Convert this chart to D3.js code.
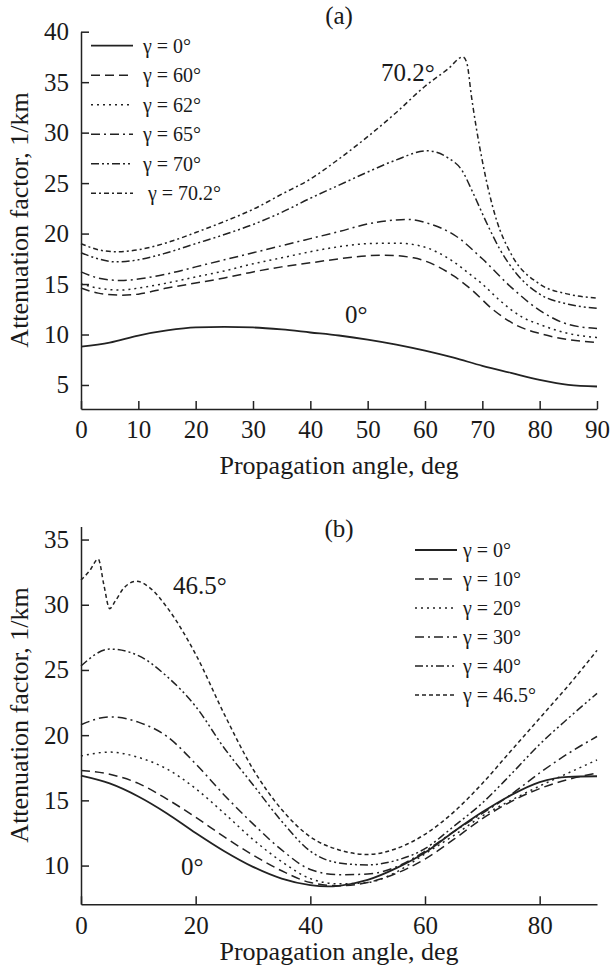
<!DOCTYPE html>
<html><head><meta charset="utf-8">
<script src="https://cdn.jsdelivr.net/npm/d3@7"></script>
<style>
html,body{margin:0;padding:0;background:#fff;}
svg text{font-family:"Liberation Serif","Times New Roman",serif;fill:#1a1a1a;}
</style></head>
<body><svg id="c" width="611" height="974"></svg>
<script>
// ---------- Panel (a) data ----------
const ticksA = [0,10,20,30,40,50,60,70,80,90];
const yTicksA = [5,10,15,20,25,30,35,40];
const a0x  = [0,5,10,15,20,25,30,35,40,45,50,55,60,65,70,75,80,85,90];
const a0y  = [8.8,9.2,9.9,10.4,10.7,10.75,10.7,10.5,10.2,9.9,9.5,9.0,8.4,7.7,6.9,6.2,5.5,5.0,4.85];
const a60x = [0,3,7,10,15,20,25,30,35,40,45,50,53,58,62,65,68,72,76,80,85,90];
const a60y = [14.6,14.1,13.9,14.0,14.6,15.1,15.6,16.2,16.7,17.1,17.5,17.8,17.85,17.6,16.8,15.8,14.5,12.4,10.9,10.1,9.5,9.2];
const a62x = [0,3,7,10,15,20,25,30,35,40,45,50,55,59,62,65,68,70,73,77,80,85,90];
const a62y = [15.0,14.6,14.4,14.6,15.1,15.7,16.3,17.0,17.6,18.2,18.7,19.0,19.05,18.8,18.2,17.2,15.9,15.0,13.4,11.7,11.0,10.1,9.7];
const a65x = [0,3,7,10,15,20,25,30,35,40,45,50,55,57,60,63,65,70,75,80,85,90];
const a65y = [16.2,15.6,15.35,15.5,16.0,16.7,17.4,18.1,18.8,19.5,20.2,20.95,21.35,21.4,21.1,20.5,19.9,17.5,14.7,12.4,11.0,10.6];
const a70x = [0,3,6,10,15,20,25,30,35,40,45,50,55,60.3,64,66.4,68.4,70.8,73,76,80,85,90];
const a70y = [18.1,17.5,17.2,17.4,18.1,19.0,19.9,20.9,22.1,23.5,24.8,26.1,27.3,28.2,27.5,26.3,24.0,21.0,18.5,16.0,14.0,13.0,12.6];
const a702x = [0,3,6,10,15,20,25,30,35,40,45,50,55,60,64,66.6,67.3,68.1,69,70,71,72.5,75,80,85,90];
const a702y = [19.0,18.4,18.2,18.4,19.1,20.1,21.2,22.4,23.9,25.4,27.4,29.6,32.0,34.6,36.3,37.5,36.9,33.6,30.3,27.2,24.5,21.3,18.0,15.0,14.0,13.6];
const labelsA = ["γ = 0°","γ = 60°","γ = 62°","γ = 65°","γ = 70°"," γ = 70.2°"];

// ---------- Panel (b) data ----------
const ticksB = [0,20,40,60,80];
const yTicksB = [10,15,20,25,30,35];
const bx = [0,5,10,15,20,25,30,35,40,45,50,55,60,65,70,75,80,85,90];
const b0x = [0,5,10,15,20,25,30,35,40,43,45,50,55,60,65,70,75,80,85,90];
const b0y = [16.9,16.3,15.3,14.0,12.5,11.1,9.9,9.0,8.5,8.4,8.45,8.9,9.8,11.0,12.6,14.1,15.4,16.4,16.8,16.85];
const b10y = [17.3,17.0,16.3,15.1,13.7,12.2,10.8,9.6,8.7,8.45,8.7,9.4,10.5,12.0,13.6,14.9,15.9,16.6,17.1];
const b20y = [18.4,18.7,18.3,17.4,15.9,14.0,12.0,10.3,9.0,8.6,8.7,9.5,10.9,12.3,13.8,15.0,16.1,17.1,18.1];
const b30y = [20.8,21.4,21.0,19.9,17.8,15.4,13.2,11.2,9.7,9.3,9.35,9.9,11.1,12.6,14.0,15.45,17.1,18.6,19.9];
const b40y = [25.3,26.6,26.1,24.5,22.2,19.0,16.2,13.4,11.1,10.2,10.05,10.4,11.3,13.0,14.8,17.0,19.3,21.3,23.2];
const b465x = [0,1.5,3,4,5,6,7.5,9.7,12,15,20,25,30,35,40,45,50,55,60,65,70,75,80,85,90];
const b465y = [31.9,32.6,33.5,31.5,29.7,30.3,31.3,31.8,31.3,29.8,26.2,21.6,17.4,14.3,12.2,11.2,10.85,11.3,12.4,14.1,16.3,18.8,21.3,23.8,26.5];
const labelsB = ["γ = 0°","γ = 10°","γ = 20°","γ = 30°","γ = 40°","γ = 46.5°"];

// ---------- styles ----------
const dashA = [null,"9,5","2,4","9,4,2,4","8,3,2,3,2,3","5,3,2,3"];
const dashB = [null,"9,5","2,4","9,4,2,4","8,3,2,3,2,3","4,3"];
const ink = "#222";

const svg = d3.select("#c");
const zip = (xs, ys) => xs.map((x,i)=>[x, ys[i]]);

function panel(cfg){
  const x = d3.scaleLinear().domain([0,90]).range([81,597]);
  const y = d3.scaleLinear().domain(cfg.yDomain).range(cfg.yRange);
  const g = svg.append("g");
  const xa = d3.axisBottom(x).tickValues(cfg.xTicks).tickSizeInner(-8).tickSizeOuter(0).tickPadding(cfg.xPad).tickFormat(d3.format("d"));
  const ya = d3.axisLeft(y).tickValues(cfg.yTicks).tickSizeInner(-8).tickSizeOuter(0).tickPadding(12).tickFormat(d3.format("d"));
  const gx = g.append("g").attr("transform",`translate(0,${cfg.yRange[0]})`).call(xa);
  const gy = g.append("g").attr("transform","translate(81,0)").call(ya);
  [gx,gy].forEach(a=>{
    a.attr("font-family","Liberation Serif");
    a.select(".domain").attr("stroke",ink).attr("stroke-width",1.5);
    a.selectAll(".tick line").attr("stroke",ink).attr("stroke-width",1.5);
    a.selectAll(".tick text").attr("font-size",25).attr("fill","#1a1a1a");
  });
  const line = d3.line().x(d=>x(d[0])).y(d=>y(d[1])).curve(d3.curveMonotoneX);
  cfg.series.forEach((s,i)=>{
    g.append("path").datum(s).attr("d",line).attr("fill","none")
      .attr("stroke",ink).attr("stroke-width", i===0?1.8:1.5)
      .attr("stroke-dasharray", cfg.dash[i]);
  });
  cfg.labels.forEach((t,i)=>{
    const ly = cfg.legY + i*cfg.legStep;
    g.append("line").attr("x1",cfg.legX1).attr("x2",cfg.legX2).attr("y1",ly).attr("y2",ly)
      .attr("stroke",ink).attr("stroke-width",i===0?1.8:1.5).attr("stroke-dasharray",cfg.dash[i]);
    g.append("text").attr("x",cfg.legTX).attr("y",ly).attr("dy","0.35em").attr("font-size",20)
      .attr("xml:space","preserve").style("white-space","pre").text(t);
  });
  g.append("text").attr("x",339).attr("y",cfg.titleY).attr("text-anchor","middle").attr("font-size",25).text(cfg.title);
  g.append("text").attr("x",339).attr("y",cfg.xLabY).attr("text-anchor","middle").attr("font-size",26).text("Propagation angle, deg");
  g.append("text").attr("transform",`translate(28,${cfg.yLabC}) rotate(-90)`).attr("text-anchor","middle").attr("font-size",26).text("Attenuation factor, 1/km");
  cfg.notes.forEach(n=>{
    g.append("text").attr("x",n[0]).attr("y",n[1]).attr("font-size",25).text(n[2]);
  });
}

panel({
  yDomain:[2.62,40], yRange:[409,31.7], xTicks:ticksA, yTicks:yTicksA, xPad:11,
  series:[zip(a0x,a0y),zip(a60x,a60y),zip(a62x,a62y),zip(a65x,a65y),zip(a70x,a70y),zip(a702x,a702y)],
  dash:dashA, labels:labelsA, legX1:91, legX2:133, legTX:143, legY:45.7, legStep:29.5,
  title:"(a)", titleY:24, xLabY:474, yLabC:220,
  notes:[[381,81,"70.2°"],[345,323,"0°"]]
});
panel({
  yDomain:[7.03,36], yRange:[904.3,526.5], xTicks:ticksB, yTicks:yTicksB, xPad:12,
  series:[zip(b0x,b0y),zip(bx,b10y),zip(bx,b20y),zip(bx,b30y),zip(bx,b40y),zip(b465x,b465y)],
  dash:dashB, labels:labelsB, legX1:415, legX2:457, legTX:463, legY:550, legStep:29,
  title:"(b)", titleY:537, xLabY:960, yLabC:715,
  notes:[[173,594,"46.5°"],[181,875,"0°"]]
});
</script></body></html>
